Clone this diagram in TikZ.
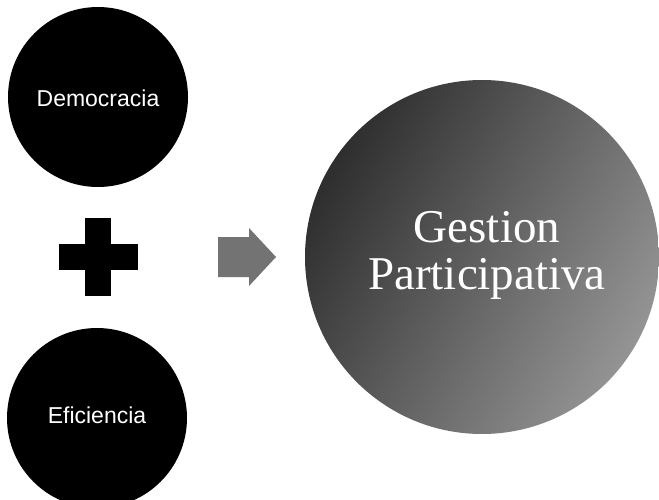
\documentclass[tikz,border=0pt]{standalone}
\usepackage{fontspec}
\setmainfont{Liberation Serif}
\newfontfamily\arialfont{Liberation Sans}
\begin{document}
\begin{tikzpicture}[x=1pt,y=-1pt,
  blackdisc/.style={circle,fill=black,inner sep=0pt,minimum size=180pt},
  disctext/.style={text=white,font=\arialfont\fontsize{23}{27}\selectfont}]
\useasboundingbox (0,0) rectangle (659,500);
\begin{scope}
\clip (0,0) rectangle (659,500);
\node[blackdisc] (demo) at (98,97) {};
\node[blackdisc] (efi) at (97,418) {};
\node[circle,inner sep=0pt,minimum size=354pt,left color=black!82,right color=black!42,shading angle=60] (gp) at (482,257) {};
\end{scope}
\node[disctext] (demotext) at (demo.center) [yshift=-1pt] {Democracia};
\node[disctext] (efitext) at (97,415) {Eficiencia};
\node[text=white,font=\fontsize{47}{47}\selectfont,align=center] (gptext) at (487,255) {Gestion\\Participativa};
% plus sign
\fill[black] (85,218) rectangle (111,296);
\fill[black] (59,244) rectangle (138,270);
% arrow
\fill[black!55] (218,237) -- (249,237) -- (249,228) -- (276,257) -- (249,286) -- (249,277) -- (218,277) -- cycle;
\end{tikzpicture}
\end{document}
